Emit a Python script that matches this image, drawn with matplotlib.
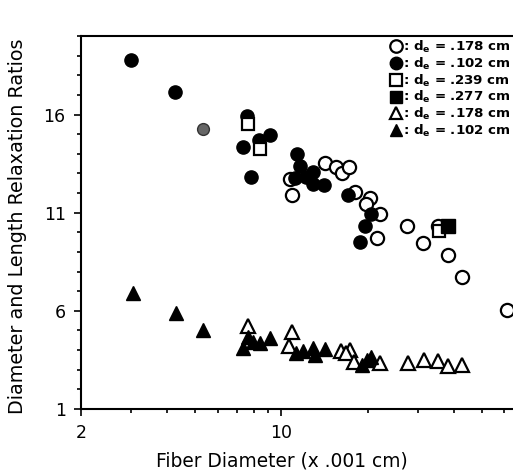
import matplotlib
matplotlib.use("Agg")
import matplotlib.pyplot as plt
from matplotlib.ticker import FixedLocator, NullFormatter, FixedFormatter
from matplotlib.lines import Line2D

# --- data (fiber diameter x .001 cm, ratio) ---
open_circle_x = [10.69, 10.93, 14.17, 15.57, 16.34, 17.23, 18.04, 20.36, 19.71, 22.06, 21.58, 27.48, 31.26, 35.3, 38.2, 42.8, 61.2]
open_circle_y = [12.72, 11.92, 13.54, 13.32, 13.03, 13.32, 12.04, 11.73, 11.44, 10.92, 9.69, 10.32, 9.44, 10.32, 8.82, 7.73, 6.05]

filled_circle_x = [3.00, 4.27, 7.57, 7.34, 8.35, 9.10, 7.86, 11.34, 11.59, 12.90, 12.90, 14.06, 11.13, 12.16, 17.05, 20.47, 19.56, 18.78]
filled_circle_y = [18.77, 17.15, 15.95, 14.34, 14.68, 14.97, 12.82, 13.97, 13.40, 13.06, 12.46, 12.41, 12.75, 12.82, 11.90, 10.92, 10.33, 9.51]

speckled_x = [5.31]
speckled_y = [15.28]

open_square_x = [7.63, 8.40, 35.6]
open_square_y = [15.54, 14.26, 10.07]

filled_square_x = [38.2]
filled_square_y = [10.32]

open_tri_x = [7.64, 10.93, 10.63, 16.12, 17.33, 16.8, 17.90, 22.06, 27.6, 31.4, 35.3, 38.2, 42.8]
open_tri_y = [5.23, 4.92, 4.21, 3.95, 4.00, 3.83, 3.40, 3.35, 3.32, 3.52, 3.46, 3.19, 3.23]

filled_tri_x = [3.03, 4.30, 5.32, 7.64, 7.34, 7.96, 8.40, 9.15, 11.29, 11.90, 12.90, 13.08, 14.17, 19.04, 19.92, 20.63]
filled_tri_y = [6.91, 5.91, 5.03, 4.65, 4.12, 4.43, 4.37, 4.63, 3.83, 3.97, 4.09, 3.74, 4.05, 3.23, 3.49, 3.66]

legend_labels = [r': d$_{\mathbf{e}}$ = .178 cm', r': d$_{\mathbf{e}}$ = .102 cm', r': d$_{\mathbf{e}}$ = .239 cm',
                 r': d$_{\mathbf{e}}$ = .277 cm', r': d$_{\mathbf{e}}$ = .178 cm', r': d$_{\mathbf{e}}$ = .102 cm']

x_major = [2, 10]
x_major_labels = ["2", "10"]
x_minor = [3, 4, 5, 6, 7, 8, 9, 20, 30, 40, 50, 60]
y_major = [1, 6, 11, 16]

plt.rcParams['font.family'] = ['DejaVu Sans']
plt.rcParams['mathtext.fontset'] = 'dejavusans'

fig = plt.figure(figsize=(5.13, 4.72), dpi=100)
ax = fig.add_axes([81/513, 63/472, 432/513, 373/472])

ms = 9.5
mew = 1.6
ax.plot(open_circle_x, open_circle_y, 'o', ms=ms, mfc='white', mec='black', mew=mew, ls='none')
ax.plot(filled_circle_x, filled_circle_y, 'o', ms=ms, mfc='black', mec='black', ls='none')
ax.plot(speckled_x, speckled_y, 'o', ms=ms-1, mfc='0.4', mec='0.2', mew=1.0, ls='none')
ax.plot(open_square_x, open_square_y, 's', ms=ms-1, mfc='white', mec='black', mew=mew, ls='none')
ax.plot(filled_square_x, filled_square_y, 's', ms=ms, mfc='black', mec='black', ls='none')
ax.plot(open_tri_x, open_tri_y, '^', ms=ms, mfc='white', mec='black', mew=mew, ls='none')
ax.plot(filled_tri_x, filled_tri_y, '^', ms=ms, mfc='black', mec='black', ls='none')

ax.set_xscale('log')
ax.set_xlim(2, 64.3)
ax.set_ylim(1, 20)

ax.xaxis.set_major_locator(FixedLocator(x_major))
ax.xaxis.set_major_formatter(FixedFormatter(x_major_labels))
ax.xaxis.set_minor_locator(FixedLocator(x_minor))
ax.xaxis.set_minor_formatter(NullFormatter())
ax.yaxis.set_major_locator(FixedLocator(y_major))
ax.yaxis.set_minor_locator(FixedLocator([v for v in range(1, 21)]))

ax.tick_params(which='major', direction='out', length=5, width=1.2, labelsize=12.5, pad=6)
ax.tick_params(which='minor', direction='out', length=3, width=1.2)

for s in ['left', 'bottom', 'top']:
    ax.spines[s].set_linewidth(1.5)
ax.spines['right'].set_visible(False)

ax.set_xlabel('Fiber Diameter (x .001 cm)', fontsize=13.4)
ax.xaxis.set_label_coords(0.465, -0.115)
ax.set_ylabel('Diameter and Length Relaxation Ratios', fontsize=13.8)
ax.yaxis.set_label_coords(-0.125, 0.49)

handles = [
    Line2D([], [], marker='o', ms=9, mfc='white', mec='black', mew=1.6, ls='none'),
    Line2D([], [], marker='o', ms=9, mfc='black', mec='black', ls='none'),
    Line2D([], [], marker='s', ms=8.5, mfc='white', mec='black', mew=1.6, ls='none'),
    Line2D([], [], marker='s', ms=8.5, mfc='black', mec='black', ls='none'),
    Line2D([], [], marker='^', ms=9, mfc='white', mec='black', mew=1.6, ls='none'),
    Line2D([], [], marker='^', ms=9, mfc='black', mec='black', ls='none'),
]
ax.legend(handles, legend_labels, loc='upper right', bbox_to_anchor=(1.01, 1.01), frameon=False,
          handlelength=0.8, handletextpad=0.15, labelspacing=0.05, borderaxespad=0.1,
          prop={'size': 9.6, 'weight': 'bold'})

fig.savefig('out.png', dpi=100)
